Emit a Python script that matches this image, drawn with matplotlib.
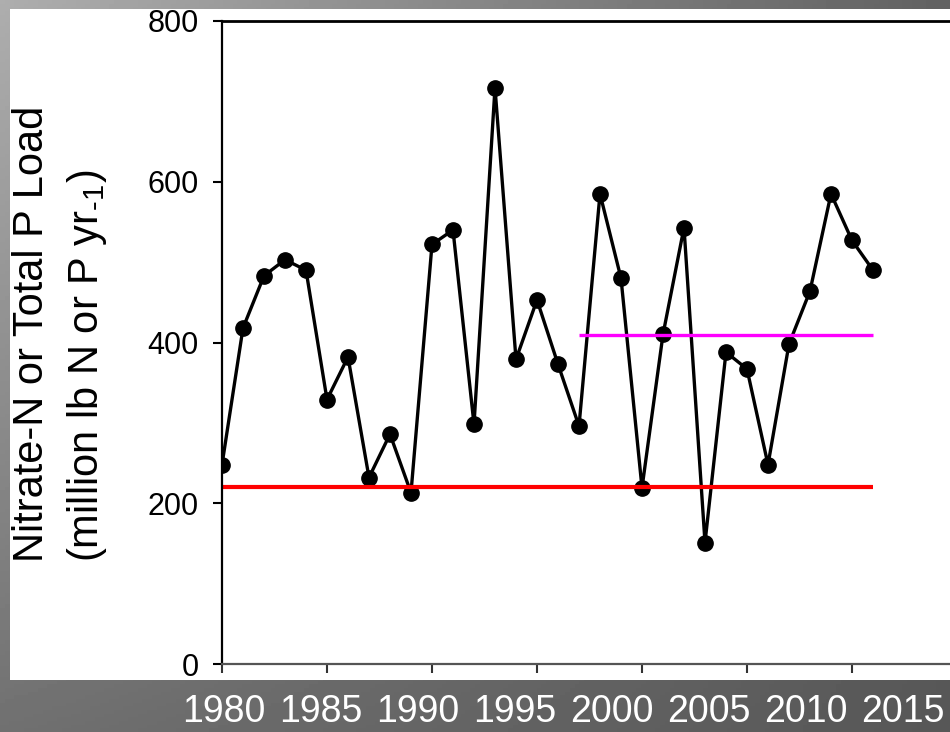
import numpy as np
import matplotlib
matplotlib.use("Agg")
import matplotlib.pyplot as plt
from matplotlib.patches import Rectangle

plt.rcParams['font.family'] = ['Liberation Sans', 'DejaVu Sans']
plt.rcParams['mathtext.default'] = 'regular'

years = list(range(1980, 2012))
loads = [248, 418, 483, 503, 490, 329, 382, 232, 286, 213, 522, 540, 298, 717,
         379, 453, 373, 296, 585, 480, 219, 410, 543, 151, 388, 367, 248, 398,
         464, 585, 527, 490]
red_level = 220
red_span = [1980, 2011]
mag_level = 409
mag_span = [1997, 2011]
yticks = [0, 200, 400, 600, 800]
xtick_years = [1980, 1985, 1990, 1995, 2000, 2005, 2010, 2015]
ylabel1 = "Nitrate-N or Total P Load"
ylabel2 = "(million lb N or P yr$_{\\mathregular{\u20101}}$)"

W, H = 950, 732
fig = plt.figure(figsize=(W / 100, H / 100), dpi=100)

# background gradient
bg = fig.add_axes([0, 0, 1, 1])
bg.set_axis_off()
xx, yy = np.meshgrid(np.linspace(0, 1, 200), np.linspace(0, 1, 200))
tl, tr, bl, br = 0.68, 0.38, 0.44, 0.34
grad = (tl * (1 - xx) * (1 - yy) + tr * xx * (1 - yy) + bl * (1 - xx) * yy + br * xx * yy)
bg.imshow(grad, cmap='gray', vmin=0, vmax=1, extent=[0, 1, 0, 1], aspect='auto', origin='upper')
bg.set_xlim(0, 1)
bg.set_ylim(0, 1)
bg.add_patch(Rectangle((10 / W, (H - 680) / H), (W - 10) / W, (680 - 9) / H,
                       transform=bg.transAxes, facecolor='white', edgecolor='none'))

# main axes
x0 = 222 / W
ax = fig.add_axes([x0, 68 / H, 735 / W, 643 / H])
ax.set_facecolor('white')
ax.plot(years, loads, color='black', lw=2.4, marker='o', markersize=11, zorder=3)
ax.hlines(red_level, red_span[0], red_span[1], color='#ff0000', lw=3, zorder=4)
ax.hlines(mag_level, mag_span[0], mag_span[1], color='#ff00ff', lw=2.4, zorder=4)
ax.set_xlim(1980, 2015)
ax.set_ylim(0, 800)
ax.set_yticks(yticks)
ax.set_yticklabels([str(v) for v in yticks])
ax.set_xticks(xtick_years)
ax.set_xticklabels([])
ax.tick_params(axis='y', direction='out', length=6.5, width=1.5, pad=10.5,
               labelsize=22, colors='black')
ax.tick_params(axis='x', direction='out', length=6.5, width=1.5, color='#333333')
ax.spines['top'].set_linewidth(2)
ax.spines['left'].set_linewidth(1.6)
ax.spines['bottom'].set_linewidth(1.6)
ax.spines['bottom'].set_color('#555555')
ax.spines['right'].set_visible(False)
for sp in ax.spines.values():
    sp.set_zorder(5)
for s in ('left', 'top'):
    ax.spines[s].set_color('black')

# year labels row (separate scale, as in the slide)
lab = fig.add_axes([224 / W, (H - 694) / H, (903 - 224) / W, 0.0005])
lab.set_facecolor('none')
for sp in lab.spines.values():
    sp.set_visible(False)
lab.set_xlim(1980, 2015)
lab.set_xticks(xtick_years)
lab.set_xticklabels([str(y) for y in xtick_years])
lab.set_yticks([])
lab.tick_params(axis='x', length=0, pad=0, labelsize=27, labelcolor='white')

# y label (two lines)
fig.text(43 / W, (H - 562) / H, ylabel1, rotation=90, rotation_mode='anchor',
         ha='left', va='baseline', fontsize=30, color='black')
fig.text(98 / W, (H - 562) / H, ylabel2, rotation=90, rotation_mode='anchor',
         ha='left', va='baseline', fontsize=30, color='black')

fig.savefig('out.png', dpi=100)
